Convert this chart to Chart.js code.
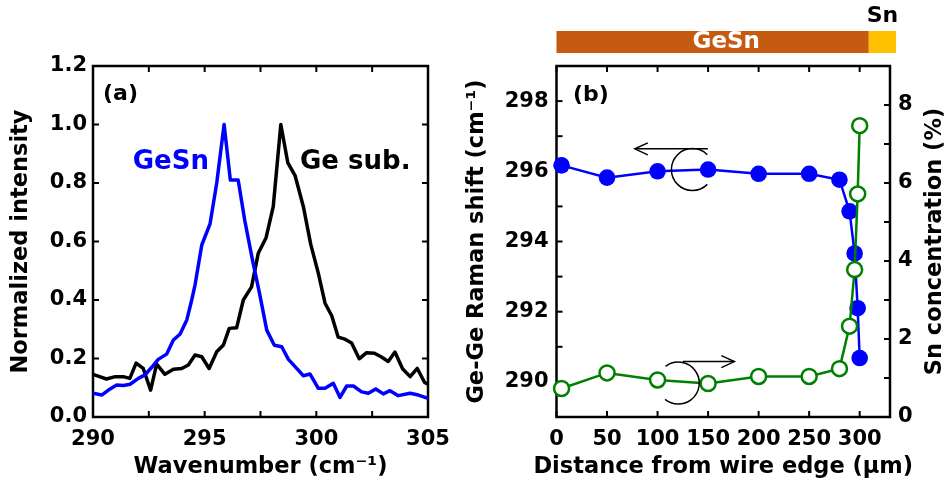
<!DOCTYPE html>
<html>
<head>
<meta charset="utf-8">
<script src="https://cdn.jsdelivr.net/npm/chart.js@4.4.1/dist/chart.umd.min.js"></script>
<style>
  body { margin: 0; background: #fff; }
  #wrap { position: relative; width: 951px; height: 488px; }
  canvas { position: absolute; top: 0; }
  #chartA { left: 0; }
  #chartB { left: 455px; }
</style>
</head>
<body>
<div id="wrap">
  <canvas id="chartA" width="475" height="488"></canvas>
  <canvas id="chartB" width="496" height="488"></canvas>
</div>
<script>
// (a) Raman spectra
const wnGe = [290.0, 290.3, 290.6, 291.0, 291.35, 291.65, 291.93, 292.25, 292.58, 292.85, 293.22, 293.6, 293.97, 294.27, 294.57, 294.87, 295.2, 295.54, 295.84, 296.1, 296.43, 296.73, 297.1, 297.4, 297.75, 298.07, 298.41, 298.72, 299.05, 299.42, 299.75, 300.09, 300.39, 300.69, 300.98, 301.28, 301.58, 301.92, 302.25, 302.6, 302.9, 303.22, 303.52, 303.86, 304.2, 304.52, 304.85, 305.0];
const intGe = [0.146, 0.138, 0.130, 0.138, 0.138, 0.132, 0.184, 0.166, 0.092, 0.181, 0.146, 0.163, 0.166, 0.178, 0.212, 0.206, 0.166, 0.223, 0.246, 0.303, 0.305, 0.400, 0.445, 0.560, 0.613, 0.719, 1.0, 0.870, 0.825, 0.719, 0.590, 0.491, 0.389, 0.346, 0.273, 0.266, 0.253, 0.199, 0.220, 0.218, 0.206, 0.190, 0.222, 0.165, 0.138, 0.166, 0.118, 0.112];
const wnGeSn = [290.0, 290.39, 290.69, 291.06, 291.36, 291.66, 292.03, 292.33, 292.63, 292.92, 293.3, 293.6, 293.9, 294.2, 294.42, 294.57, 294.87, 295.24, 295.54, 295.87, 296.15, 296.5, 296.8, 297.14, 297.45, 297.78, 298.12, 298.45, 298.75, 299.12, 299.42, 299.72, 300.09, 300.39, 300.76, 301.06, 301.36, 301.66, 302.03, 302.33, 302.66, 303.0, 303.3, 303.67, 304.2, 304.57, 305.0];
const intGeSn = [0.081, 0.075, 0.092, 0.109, 0.108, 0.112, 0.132, 0.144, 0.170, 0.197, 0.215, 0.263, 0.284, 0.332, 0.400, 0.452, 0.588, 0.660, 0.800, 1.0, 0.810, 0.810, 0.670, 0.537, 0.425, 0.297, 0.245, 0.240, 0.197, 0.166, 0.141, 0.147, 0.098, 0.098, 0.115, 0.067, 0.106, 0.106, 0.086, 0.081, 0.096, 0.079, 0.090, 0.073, 0.081, 0.075, 0.064];
const wnTicks = [290, 292.5, 295, 297.5, 300, 302.5, 305];
const wnLabels = [290, 295, 300, 305];
const intTicks = [0, 0.2, 0.4, 0.6, 0.8, 1.0, 1.2];

// (b) line scan along the wire
const distance = [5, 50, 100, 150, 200, 250, 280, 290, 295, 298, 300];
const ramanShift = [296.17, 295.82, 296.0, 296.05, 295.93, 295.93, 295.76, 294.86, 293.66, 292.1, 290.68];
const snConc = [0.73, 1.13, 0.95, 0.86, 1.04, 1.04, 1.24, 2.33, 3.78, 5.72, 7.47];
const distTicks = [0, 50, 100, 150, 200, 250, 300];
const shiftTicks = [290, 291, 292, 293, 294, 295, 296, 297, 298];
const shiftLabels = [290, 292, 294, 296, 298];
const concTicks = [0, 1, 2, 3, 4, 5, 6, 7, 8];
const concLabels = [0, 2, 4, 6, 8];
const wireParts = ['GeSn', 'Sn'];
const wireEdges = [0, 309, 336];

const FONT = "'DejaVu Sans', sans-serif";
Chart.defaults.font.family = FONT;
Chart.defaults.font.weight = 'bold';
Chart.defaults.color = '#000';
Chart.defaults.animation = false;

const toXY = (xs, ys) => xs.map((x, i) => ({ x: x, y: ys[i] }));
const setTicks = list => s => { s.ticks = list.map(v => ({ value: v })); };
const noGrid = { display: false, drawTicks: false };

// frame + inward tick marks
function frameTicks(sides) {
  return {
    id: 'frameTicks',
    beforeDatasetsDraw(chart) {
      const { ctx, chartArea: a } = chart;
      ctx.save();
      ctx.strokeStyle = '#000';
      ctx.lineWidth = 2;
      for (const id in sides) {
        const s = chart.scales[id];
        s.ticks.forEach(t => {
          const p = s.getPixelForValue(t.value);
          sides[id].forEach(side => {
            ctx.beginPath();
            if (side == 'bottom') { ctx.moveTo(p, a.bottom); ctx.lineTo(p, a.bottom - 6); }
            if (side == 'top') { ctx.moveTo(p, a.top); ctx.lineTo(p, a.top + 6); }
            if (side == 'left') { ctx.moveTo(a.left, p); ctx.lineTo(a.left + 6, p); }
            if (side == 'right') { ctx.moveTo(a.right, p); ctx.lineTo(a.right - 6, p); }
            ctx.stroke();
          });
        });
      }
      ctx.lineWidth = 2.5;
      ctx.strokeRect(a.left, a.top, a.right - a.left, a.bottom - a.top);
      ctx.restore();
    }
  };
}

const labelsA = {
  id: 'labelsA',
  afterDatasetsDraw(chart) {
    const { ctx, scales: { x, y } } = chart;
    ctx.save();
    ctx.textBaseline = 'middle';
    ctx.textAlign = 'left';
    ctx.font = 'bold 22px ' + FONT;
    ctx.fillStyle = '#000';
    ctx.fillText('(a)', x.getPixelForValue(290.45), y.getPixelForValue(1.104));
    ctx.font = 'bold 26px ' + FONT;
    ctx.fillStyle = '#0000ff';
    ctx.fillText('GeSn', x.getPixelForValue(291.78), y.getPixelForValue(0.87));
    ctx.fillStyle = '#000';
    ctx.fillText('Ge sub.', x.getPixelForValue(299.27), y.getPixelForValue(0.87));
    ctx.restore();
  }
};

function arrowHead(ctx, x, y, dir) {
  ctx.beginPath();
  ctx.moveTo(x - dir * 13, y - 6);
  ctx.lineTo(x, y);
  ctx.lineTo(x - dir * 13, y + 6);
  ctx.stroke();
}

const labelsB = {
  id: 'labelsB',
  afterDraw(chart) {
    const { ctx, chartArea: a, scales: { x, y, y1 } } = chart;
    ctx.save();
    // wire schematic above the plot
    const colors = ['#c55a11', '#ffc000'];
    wireParts.forEach((p, i) => {
      const x0 = x.getPixelForValue(wireEdges[i]);
      const x1 = x.getPixelForValue(wireEdges[i + 1]);
      ctx.fillStyle = colors[i];
      ctx.fillRect(x0, 31, x1 - x0, 22);
    });
    ctx.textBaseline = 'middle';
    ctx.textAlign = 'center';
    ctx.font = 'bold 23px ' + FONT;
    ctx.fillStyle = '#fff';
    ctx.fillText(wireParts[0], x.getPixelForValue(168), 42);
    ctx.font = 'bold 22px ' + FONT;
    ctx.fillStyle = '#000';
    ctx.fillText(wireParts[1], x.getPixelForValue((wireEdges[1] + wireEdges[2]) / 2), 16);

    ctx.textAlign = 'left';
    ctx.fillText('(b)', x.getPixelForValue(16.3), y.getPixelForValue(298.17));

    // x title, full width (no squeezing)
    ctx.textAlign = 'center';
    ctx.font = 'bold 22.5px ' + FONT;
    ctx.fillText('Distance from wire edge (μm)', (a.left + a.right) / 2, 467);

    // right axis title, reads bottom to top
    ctx.save();
    ctx.translate(chart.width - 16, (a.top + a.bottom) / 2);
    ctx.rotate(-Math.PI / 2);
    ctx.fillText('Sn concentration (%)', 0, 0);
    ctx.restore();

    // axis hints
    ctx.strokeStyle = '#000';
    ctx.lineWidth = 1.5;
    let cx = x.getPixelForValue(134.5), cy = y.getPixelForValue(296.05);
    ctx.beginPath();
    ctx.arc(cx, cy, 21, -Math.PI / 4, Math.PI / 4, true);
    ctx.stroke();
    let ay = y.getPixelForValue(296.64);
    let ax0 = x.getPixelForValue(149.8), ax1 = x.getPixelForValue(77.5);
    ctx.beginPath();
    ctx.moveTo(ax0, ay);
    ctx.lineTo(ax1, ay);
    ctx.stroke();
    arrowHead(ctx, ax1, ay, -1);

    cx = x.getPixelForValue(120.5); cy = y1.getPixelForValue(0.87);
    ctx.beginPath();
    ctx.arc(cx, cy, 21, -127 * Math.PI / 180, 129 * Math.PI / 180, false);
    ctx.stroke();
    ay = y1.getPixelForValue(1.42);
    ax0 = x.getPixelForValue(125); ax1 = x.getPixelForValue(176);
    ctx.beginPath();
    ctx.moveTo(ax0, ay);
    ctx.lineTo(ax1, ay);
    ctx.stroke();
    arrowHead(ctx, ax1, ay, 1);
    ctx.restore();
  }
};

new Chart(document.getElementById('chartA'), {
  type: 'line',
  data: {
    datasets: [
      { label: 'GeSn', data: toXY(wnGeSn, intGeSn), borderColor: '#0000ff', borderWidth: 3.5 },
      { label: 'Ge sub.', data: toXY(wnGe, intGe), borderColor: '#000', borderWidth: 3.5 },
    ],
  },
  options: {
    responsive: false,
    layout: { padding: { top: 66, right: 47, left: 0, bottom: 0 } },
    elements: { point: { radius: 0 }, line: { tension: 0, borderJoinStyle: 'round' } },
    plugins: { legend: { display: false }, tooltip: { enabled: false } },
    scales: {
      x: {
        type: 'linear', min: 290, max: 305,
        grid: noGrid, border: { display: false },
        afterBuildTicks: setTicks(wnTicks),
        afterFit: s => { s.height = 71; },
        ticks: { padding: 10, font: { size: 21 }, maxRotation: 0, autoSkip: false,
          callback: v => wnLabels.includes(v) ? String(v) : '' },
        title: { display: true, text: 'Wavenumber (cm⁻¹)', font: { size: 22.5 }, padding: { bottom: 7 } },
      },
      y: {
        min: 0, max: 1.2,
        grid: noGrid, border: { display: false },
        afterBuildTicks: setTicks(intTicks),
        afterFit: s => { s.width = 93; },
        ticks: { padding: 6, font: { size: 21 }, callback: v => v.toFixed(1) },
        title: { display: true, text: 'Normalized intensity', font: { size: 22.5 }, padding: { top: 8 } },
      },
    },
  },
  plugins: [frameTicks({ x: ['bottom', 'top'], y: ['left', 'right'] }), labelsA],
});

new Chart(document.getElementById('chartB'), {
  type: 'line',
  data: {
    datasets: [
      { label: 'Sn concentration', data: toXY(distance, snConc), yAxisID: 'y1',
        borderColor: '#008000', borderWidth: 2.5, pointRadius: 7.5, pointBorderWidth: 2.5,
        pointBackgroundColor: '#fff', pointBorderColor: '#008000', clip: false },
      { label: 'Ge-Ge Raman shift', data: toXY(distance, ramanShift), yAxisID: 'y',
        borderColor: '#0000ff', borderWidth: 2.5, pointRadius: 8.3, pointBorderWidth: 0,
        pointBackgroundColor: '#0000ff', pointBorderColor: '#0000ff', clip: false },
    ],
  },
  options: {
    responsive: false,
    layout: { padding: { top: 66, right: 0, left: 0, bottom: 0 } },
    elements: { line: { tension: 0 } },
    plugins: { legend: { display: false }, tooltip: { enabled: false } },
    scales: {
      x: {
        type: 'linear', min: 0, max: 330,
        grid: noGrid, border: { display: false },
        afterBuildTicks: setTicks(distTicks),
        afterFit: s => { s.height = 71; },
        ticks: { padding: 10, font: { size: 21 }, maxRotation: 0, autoSkip: false },
      },
      y: {
        position: 'left', min: 289, max: 299,
        grid: noGrid, border: { display: false },
        afterBuildTicks: setTicks(shiftTicks),
        afterFit: s => { s.width = 101.5; },
        ticks: { padding: 8, font: { size: 21 }, callback: v => shiftLabels.includes(v) ? String(v) : '' },
        title: { display: true, text: 'Ge-Ge Raman shift (cm⁻¹)', font: { size: 22.5 }, padding: { top: 9 } },
      },
      y1: {
        position: 'right', min: 0, max: 9,
        grid: noGrid, border: { display: false },
        afterBuildTicks: setTicks(concTicks),
        afterFit: s => { s.width = 61; },
        ticks: { padding: 8, font: { size: 21 }, callback: v => concLabels.includes(v) ? String(v) : '' },
      },
    },
  },
  plugins: [frameTicks({ x: ['bottom', 'top'], y: ['left'], y1: ['right'] }), labelsB],
});
</script>
</body>
</html>
